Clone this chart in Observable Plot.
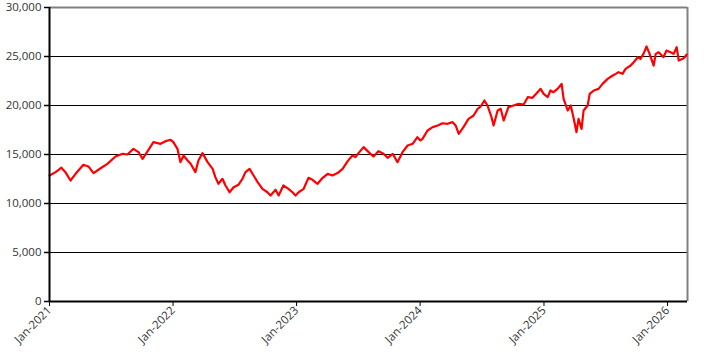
<!DOCTYPE html>
<html>
<head>
<meta charset="utf-8">
<script src="https://cdn.jsdelivr.net/npm/d3@7"></script>
<script src="https://cdn.jsdelivr.net/npm/@observablehq/plot@0.6"></script>
<style>
  html, body { margin: 0; padding: 0; background: #fff; }
  #chart svg { display: block; }
</style>
</head>
<body>
<div id="chart"></div>
<script>
const dates = [
"2021-01-01","2021-01-19","2021-01-28","2021-02-05","2021-02-17","2021-03-04","2021-03-19","2021-04-11","2021-04-26","2021-05-11",
"2021-06-01","2021-06-21","2021-07-15","2021-08-05","2021-08-19","2021-09-06","2021-09-21","2021-10-03","2021-10-18","2021-11-04",
"2021-11-25","2021-12-10","2021-12-25","2022-01-02","2022-01-14","2022-01-23","2022-02-01","2022-02-13","2022-02-22","2022-03-08",
"2022-03-17","2022-03-29","2022-04-13","2022-04-28","2022-05-06","2022-05-15","2022-05-27","2022-06-05","2022-06-17","2022-06-29",
"2022-07-13","2022-07-25","2022-08-03","2022-08-15","2022-08-27","2022-09-08","2022-09-22","2022-10-07","2022-10-16","2022-10-31",
"2022-11-09","2022-11-23","2022-12-08","2022-12-20","2022-12-29","2023-01-07","2023-01-22","2023-02-05","2023-02-17","2023-03-04",
"2023-03-19","2023-04-03","2023-04-17","2023-05-02","2023-05-17","2023-06-01","2023-06-15","2023-06-24","2023-07-03","2023-07-18",
"2023-08-02","2023-08-16","2023-08-31","2023-09-15","2023-09-27","2023-10-12","2023-10-26","2023-11-10","2023-11-25","2023-12-10",
"2023-12-24","2024-01-02","2024-01-08","2024-01-23","2024-02-07","2024-02-22","2024-03-07","2024-03-22","2024-04-06","2024-04-15",
"2024-04-24","2024-05-08","2024-05-23","2024-06-07","2024-06-19","2024-06-28","2024-07-09","2024-07-18","2024-07-30","2024-08-05",
"2024-08-17","2024-08-26","2024-09-04","2024-09-18","2024-10-03","2024-10-18","2024-11-02","2024-11-14","2024-11-28","2024-12-13",
"2024-12-22","2024-12-31","2025-01-12","2025-01-20","2025-01-29","2025-02-10","2025-02-22","2025-02-28","2025-03-12","2025-03-21",
"2025-03-29","2025-04-07","2025-04-13","2025-04-22","2025-04-28","2025-05-10","2025-05-16","2025-05-28","2025-06-11","2025-06-23",
"2025-07-08","2025-07-23","2025-08-01","2025-08-09","2025-08-21","2025-08-30","2025-09-14","2025-09-23","2025-10-05","2025-10-13",
"2025-10-22","2025-10-31","2025-11-09","2025-11-21","2025-11-27","2025-12-06","2025-12-20","2025-12-29","2026-01-10","2026-01-19",
"2026-01-28","2026-02-03","2026-02-15","2026-02-21","2026-02-26"
];
const values = [
12850,13200,13440,13650,13200,12350,13030,13950,13780,13100,
13600,14050,14800,15070,15000,15580,15240,14560,15340,16260,
16090,16360,16500,16260,15580,14220,14900,14390,14050,13200,
14390,15140,14220,13540,12690,12010,12520,11840,11150,11660,
11910,12520,13200,13540,12860,12180,11500,11150,10820,11400,
10820,11840,11500,11150,10820,11150,11500,12620,12420,12010,
12620,13030,12860,13100,13540,14320,14900,14730,15140,15750,
15240,14800,15340,15070,14660,15070,14220,15240,15920,16090,
16770,16430,16600,17450,17790,17960,18190,18130,18300,17960,
17110,17790,18640,18980,19660,19900,20510,20000,18810,17960,
19490,19660,18470,19830,20000,20170,20100,20850,20780,21360,
21700,21190,20850,21530,21360,21700,22210,20680,19490,20000,
18810,17280,18640,17620,19490,20000,21190,21530,21700,22210,
22720,23060,23230,23400,23230,23740,24080,24420,24930,24760,
25270,26020,25270,24080,25270,25440,24930,25610,25440,25270,
25950,24590,24760,24930,25200
];
const yTicks = [0, 5000, 10000, 15000, 20000, 25000, 30000];
const gridValues = [5000, 10000, 15000, 20000, 25000];
const xStart = "2021-01-01";
const xEnd = "2026-03-01";
const xTickFormat = "%b-%Y";

const data = dates.map((d, i) => ({date: new Date(d), value: values[i]}));
const x0 = new Date(xStart), x1 = new Date(xEnd);

const chart = Plot.plot({
  width: 706,
  height: 360,
  marginLeft: 49,
  marginRight: 19,
  marginTop: 7,
  marginBottom: 59,
  style: {fontFamily: "'Open Sans', sans-serif", fontSize: "11.5px", color: "#333", background: "#fff"},
  x: {type: "utc", domain: [x0, x1]},
  y: {domain: [0, 30000]},
  marks: [
    Plot.ruleY(gridValues, {stroke: "#000", strokeWidth: 1}),
    Plot.ruleY([yTicks[yTicks.length - 1]], {stroke: "#808080", strokeWidth: 2}),
    Plot.ruleX([x1], {stroke: "#808080", strokeWidth: 2}),
    Plot.axisY({ticks: yTicks, tickFormat: d3.format(","), tickSize: 5, tickPadding: 3, stroke: "#000", strokeWidth: 1.5, label: null}),
    Plot.axisX({ticks: d3.utcYear.every(1), tickFormat: d3.utcFormat(xTickFormat), tickRotate: -45, tickSize: 5, tickPadding: 2, stroke: "#000", label: null}),
    Plot.lineY(data, {x: "date", y: "value", stroke: "#ff0000", strokeWidth: 2.2, curve: "linear"}),
    Plot.ruleY([0], {stroke: "#000", strokeWidth: 2}),
    Plot.ruleX([x0], {stroke: "#000", strokeWidth: 2})
  ]
});
document.getElementById("chart").appendChild(chart);
</script>
</body>
</html>
